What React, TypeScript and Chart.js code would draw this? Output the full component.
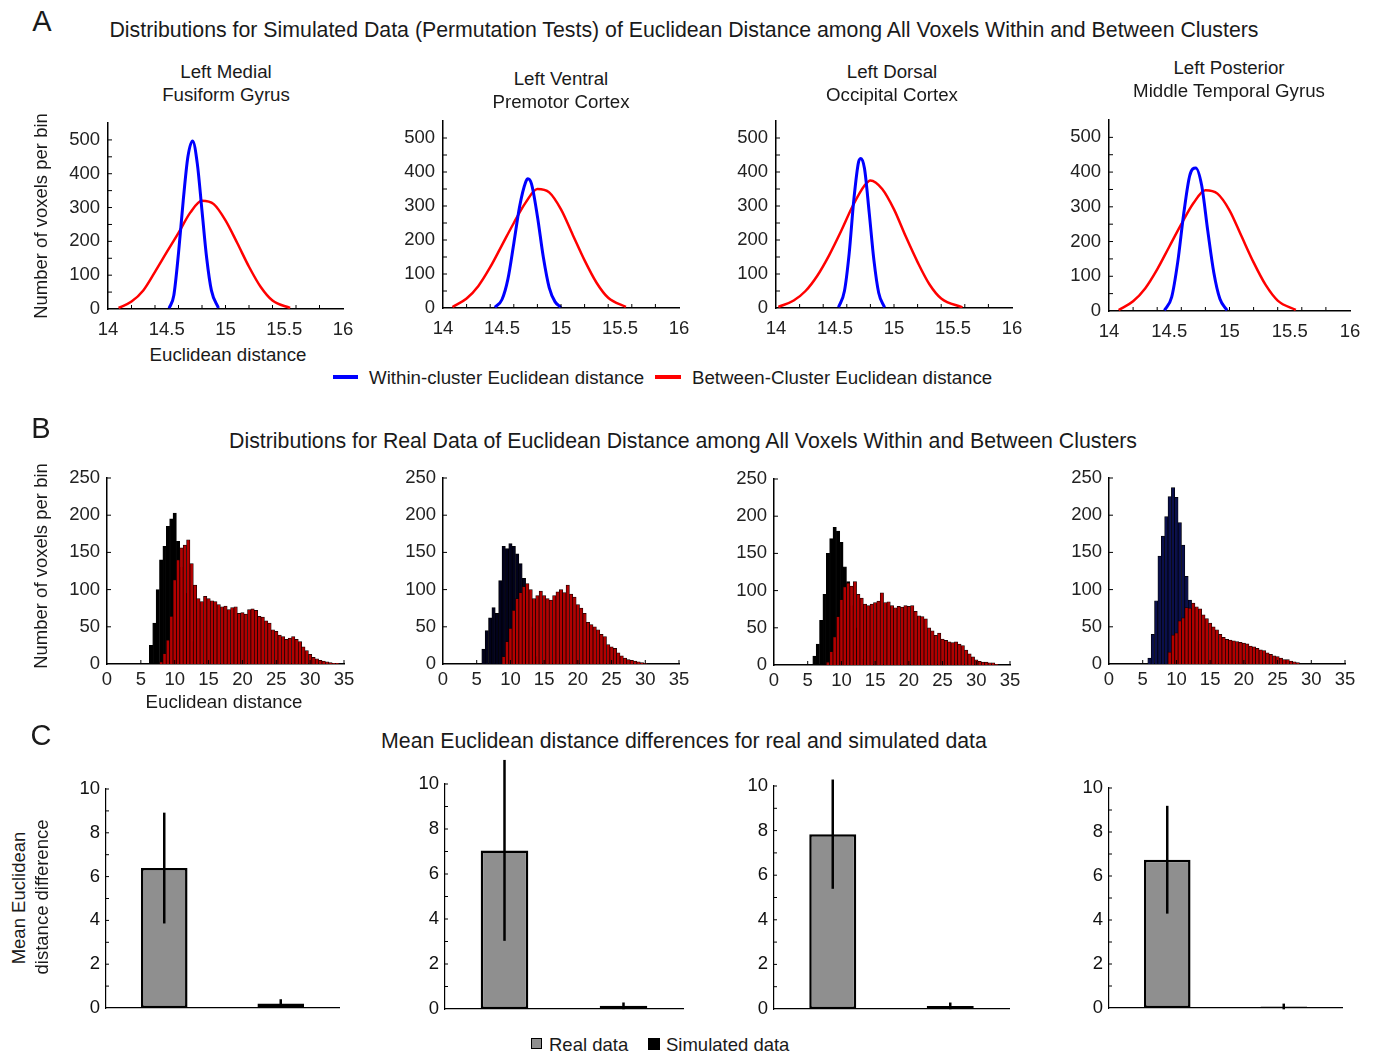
import React, { useEffect, useRef } from 'react';
import { Chart, registerables } from 'chart.js';
Chart.register(...registerables);

const FONT = "'Liberation Sans', Arial, Helvetica, sans-serif";

// ---------- Panel titles ----------
const regionTitles = [
  ['Left Medial', 'Fusiform Gyrus'],
  ['Left Ventral', 'Premotor Cortex'],
  ['Left Dorsal', 'Occipital Cortex'],
  ['Left Posterior', 'Middle Temporal Gyrus'],
];

// ---------- Row A: simulated data curves ----------
const simWithinX = [
  [14.52, 14.56, 14.6, 14.64, 14.68, 14.72, 14.76, 14.8, 14.84, 14.88, 14.94],
  [14.44, 14.5, 14.55, 14.6, 14.65, 14.7, 14.72, 14.75, 14.8, 14.85, 14.9, 14.95, 15.0],
  [14.53, 14.58, 14.62, 14.66, 14.7, 14.72, 14.75, 14.79, 14.83, 14.87, 14.92],
  [14.46, 14.52, 14.57, 14.62, 14.67, 14.72, 14.77, 14.82, 14.87, 14.92, 14.98],
];
const simWithinY = [
  [2, 40, 165, 320, 450, 497, 430, 290, 150, 55, 3],
  [2, 25, 85, 190, 300, 370, 380, 365, 270, 150, 60, 18, 2],
  [2, 50, 160, 320, 430, 440, 410, 280, 140, 45, 2],
  [2, 40, 140, 280, 390, 412, 360, 230, 110, 35, 2],
];
const simBetweenX = [
  [14.09, 14.2, 14.3, 14.4, 14.5, 14.6, 14.7, 14.8, 14.9, 15.0, 15.1, 15.2, 15.3, 15.4, 15.55],
  [14.08, 14.2, 14.3, 14.4, 14.5, 14.6, 14.7, 14.8, 14.9, 15.0, 15.1, 15.2, 15.3, 15.4, 15.55],
  [14.02, 14.15, 14.25, 14.35, 14.45, 14.55, 14.65, 14.75, 14.8, 14.9, 15.0, 15.1, 15.2, 15.3, 15.4, 15.58],
  [14.08, 14.2, 14.3, 14.4, 14.5, 14.6, 14.7, 14.8, 14.9, 15.0, 15.1, 15.2, 15.3, 15.4, 15.55],
];
const simBetweenY = [
  [3, 22, 55, 110, 168, 225, 285, 320, 310, 262, 195, 125, 65, 25, 3],
  [3, 28, 65, 120, 185, 250, 310, 350, 340, 290, 215, 140, 75, 30, 3],
  [3, 22, 50, 95, 155, 225, 300, 360, 375, 350, 290, 210, 135, 70, 28, 2],
  [3, 28, 65, 120, 185, 250, 310, 348, 338, 290, 215, 140, 75, 30, 3],
];
const simTicksY = [0, 100, 200, 300, 400, 500];

// ---------- Row B: real data histograms (bin width 0.5) ----------
const BIN_WIDTH = 0.5;
const realWithinStart = [6.5, 6.0, 6.0, 6.0];
const realWithinCounts = [
  [25, 55, 100, 140, 158, 185, 195, 203, 165, 130, 95, 60, 30, 10],
  [20, 45, 62, 76, 68, 112, 158, 155, 162, 158, 148, 135, 115, 80, 50, 25, 10],
  [12, 28, 60, 95, 150, 170, 185, 180, 165, 132, 112, 80, 50, 25, 8],
  [8, 40, 85, 145, 172, 198, 225, 237, 224, 190, 160, 118, 86, 55, 30, 12],
];
const realBetweenStart = [8.0, 9.0, 8.0, 9.0];
const realBetweenCounts = [
  [3, 14, 32, 64, 113, 140, 156, 160, 167, 135, 106, 88, 84, 91, 88, 85, 84, 80, 77, 78, 73, 76, 77, 68, 69, 67, 73, 74, 72, 64, 63, 58, 55, 46, 44, 39, 37, 33, 35, 37, 33, 30, 23, 18, 13, 9, 7, 5, 4, 3, 2, 1, 1],
  [10, 30, 48, 72, 88, 96, 104, 108, 100, 88, 92, 98, 92, 88, 86, 92, 97, 100, 96, 106, 94, 90, 80, 75, 68, 56, 53, 50, 46, 40, 37, 26, 23, 21, 15, 11, 8, 6, 5, 4, 3, 2, 1],
  [4, 18, 38, 65, 88, 105, 110, 106, 112, 95, 90, 82, 80, 82, 84, 86, 97, 84, 85, 80, 77, 79, 78, 80, 79, 80, 72, 66, 65, 62, 50, 46, 40, 43, 35, 33, 31, 30, 31, 28, 26, 20, 15, 11, 7, 5, 4, 4, 3, 3, 1],
  [16, 39, 42, 58, 62, 76, 75, 82, 77, 74, 66, 61, 55, 50, 46, 40, 36, 33, 32, 31, 30, 29, 28, 27, 24, 23, 21, 19, 18, 15, 13, 11, 10, 8, 6, 6, 4, 3, 2],
];
const withinColors = ['#000000', '#02021c', '#000000', '#0a0f4c'];

// ---------- Row C: mean differences ----------
const barCategories = ['Real data', 'Simulated data'];
const realMeans = [6.39, 7.05, 7.84, 6.74];
const realErrs = [2.53, 4.02, 2.45, 2.45];
const simMeans = [0.2, 0.14, 0.14, 0.07];
const simErrs = [0.2, 0.15, 0.15, 0.13];

// ---------- tick marks ----------
const aMinorX = [14.2, 14.4, 14.6, 14.8, 15.0, 15.2, 15.4, 15.6, 15.8];
const aMinorY = [50, 100, 150, 200, 250, 300, 350, 400, 450, 500];
const bTickX = [5, 10, 15, 20, 25, 30, 35];
const bTickY = [50, 100, 150, 200, 250];
const cTickY = [1, 2, 3, 4, 5, 6, 7, 8, 9, 10];

// ---------- layout of plot areas (page px) ----------
type Area = { l: number; r: number; t: number; b: number };
const areasA: Area[] = [
  { l: 108, r: 343, t: 123, b: 309 },
  { l: 443, r: 679, t: 121, b: 308 },
  { l: 776, r: 1012, t: 121, b: 308 },
  { l: 1109, r: 1350, t: 120, b: 311 },
];
const areasB: Area[] = [
  { l: 107, r: 344, t: 478, b: 664 },
  { l: 443, r: 679, t: 478, b: 664 },
  { l: 774, r: 1010, t: 479, b: 665 },
  { l: 1109, r: 1345, t: 478, b: 664 },
];
const areasC: Area[] = [
  { l: 106, r: 339, t: 789, b: 1008 },
  { l: 445, r: 683, t: 784, b: 1009 },
  { l: 774, r: 1009, t: 786, b: 1009 },
  { l: 1109, r: 1342, t: 788, b: 1008 },
];

const zip = (xs: number[], ys: number[]) => xs.map((x, i) => ({ x, y: ys[i] }));
const bins = (start: number, counts: number[]) => counts.map((c, i) => ({ x: start + i * BIN_WIDTH, y: c }));

function ticksPlugin(xs: number[], ys: number[], len: number, width = 1) {
  return {
    id: 'inTicks',
    afterDraw(chart: any) {
      const { ctx, chartArea, scales } = chart;
      ctx.save();
      ctx.strokeStyle = '#000';
      ctx.lineWidth = width;
      for (const v of ys) {
        const py = scales.y.getPixelForValue(v);
        ctx.beginPath();
        ctx.moveTo(chartArea.left, py);
        ctx.lineTo(chartArea.left + len, py);
        ctx.stroke();
      }
      for (const v of xs) {
        const px = scales.x.getPixelForValue(v);
        ctx.beginPath();
        ctx.moveTo(px, chartArea.bottom);
        ctx.lineTo(px, chartArea.bottom - len);
        ctx.stroke();
      }
      ctx.restore();
    },
  };
}

const errPlugin = {
  id: 'errBars',
  afterDatasetsDraw(chart: any) {
    const ds = chart.data.datasets[0];
    const meta = chart.getDatasetMeta(0);
    const ys = chart.scales.y;
    const ctx = chart.ctx;
    ctx.save();
    ctx.strokeStyle = '#000';
    ctx.lineWidth = 2.5;
    meta.data.forEach((el: any, i: number) => {
      const m = ds.data[i];
      const e = ds.errs[i];
      ctx.beginPath();
      ctx.moveTo(el.x, ys.getPixelForValue(m + e));
      ctx.lineTo(el.x, ys.getPixelForValue(m - e));
      ctx.stroke();
    });
    ctx.restore();
  },
};

type Geo = { yW: number; xH: number; pT: number; pR: number };

const baseOpts = (g: Geo) => ({
  animation: false,
  responsive: false,
  events: [],
  layout: { padding: { top: g.pT, right: g.pR, left: 0, bottom: 0 } },
  plugins: { legend: { display: false }, tooltip: { enabled: false }, title: { display: false } },
});

const zeroPad = (s: any) => {
  s.paddingTop = 0;
  s.paddingBottom = 0;
  s.paddingLeft = 0;
  s.paddingRight = 0;
};
const fitX = (g: Geo) => (s: any) => { s.height = g.xH; zeroPad(s); };
const fitY = (g: Geo) => (s: any) => { s.width = g.yW; zeroPad(s); };

const tickFont = { family: FONT, size: 18.5 };

function rowA(i: number) {
  return (g: Geo) => ({
    type: 'line',
    data: {
      datasets: [
        { data: zip(simWithinX[i], simWithinY[i]), borderColor: '#0000ff', borderWidth: 3, pointRadius: 0, cubicInterpolationMode: 'monotone', fill: false },
        { data: zip(simBetweenX[i], simBetweenY[i]), borderColor: '#ff0000', borderWidth: 2.5, pointRadius: 0, cubicInterpolationMode: 'monotone', fill: false },
      ],
    },
    options: {
      ...baseOpts(g),
      scales: {
        x: {
          type: 'linear', min: 14, max: 16, offset: false,
          grid: { display: false, drawTicks: false },
          border: { color: '#000', width: 1.5 },
          ticks: { stepSize: 0.5, padding: 10, color: '#222', font: tickFont, maxRotation: 0, autoSkip: false, callback: (v: any) => String(+Number(v).toFixed(2)) },
          afterFit: fitX(g),
        },
        y: {
          type: 'linear', min: 0, max: 550,
          grid: { display: false, drawTicks: false },
          border: { color: '#000', width: 1.5 },
          ticks: { padding: 8, color: '#222', font: tickFont },
          afterBuildTicks: (s: any) => { s.ticks = simTicksY.map((v) => ({ value: v })); },
          afterFit: fitY(g),
        },
      },
    },
    plugins: [ticksPlugin(aMinorX, aMinorY, 4)],
  });
}

function rowB(i: number) {
  return (g: Geo) => ({
    type: 'bar',
    data: {
      datasets: [
        { data: bins(realBetweenStart[i], realBetweenCounts[i]), backgroundColor: '#b30000', borderColor: '#140000', borderWidth: 0.75, barPercentage: 1, categoryPercentage: 1, grouped: false },
        { data: bins(realWithinStart[i], realWithinCounts[i]), backgroundColor: withinColors[i], borderColor: '#000', borderWidth: 0.75, barPercentage: 1, categoryPercentage: 1, grouped: false },
      ],
    },
    options: {
      ...baseOpts(g),
      scales: {
        x: {
          type: 'linear', min: 0, max: 35, offset: false,
          grid: { display: false, drawTicks: false, offset: false },
          border: { color: '#000', width: 1.5 },
          ticks: { stepSize: 5, padding: 5, color: '#222', font: tickFont, maxRotation: 0, autoSkip: false },
          afterFit: fitX(g),
        },
        y: {
          type: 'linear', min: 0, max: 250,
          grid: { display: false, drawTicks: false },
          border: { color: '#000', width: 1.5 },
          ticks: { stepSize: 50, padding: 7, color: '#222', font: tickFont },
          afterFit: fitY(g),
        },
      },
    },
    plugins: [ticksPlugin(bTickX, bTickY, 4)],
  });
}

function rowC(i: number) {
  return (g: Geo) => ({
    type: 'bar',
    data: {
      labels: barCategories,
      datasets: [
        {
          data: [realMeans[i], simMeans[i]],
          errs: [realErrs[i], simErrs[i]],
          backgroundColor: ['#8f8f8f', '#000000'],
          borderColor: '#000',
          borderWidth: 2.5,
          borderSkipped: false,
          barPercentage: 0.4,
          categoryPercentage: 1,
        },
      ],
    },
    options: {
      ...baseOpts(g),
      scales: {
        x: {
          type: 'category',
          grid: { display: false, drawTicks: false },
          border: { color: '#000', width: 1.2 },
          ticks: { display: false },
          afterFit: fitX(g),
        },
        y: {
          type: 'linear', min: 0, max: 10,
          grid: { display: false, drawTicks: false },
          border: { color: '#000', width: 1.2 },
          ticks: { stepSize: 2, padding: 6, color: '#111', font: tickFont },
          afterFit: fitY(g),
        },
      },
    },
    plugins: [ticksPlugin([], cTickY, 3), errPlugin],
  });
}

function ChartBox({ area, geo, make }: { area: Area; geo: Geo; make: (g: Geo) => any }) {
  const ref = useRef<HTMLCanvasElement>(null);
  const left = area.l - geo.yW;
  const top = area.t - geo.pT;
  const width = area.r - area.l + geo.yW + geo.pR;
  const height = area.b - area.t + geo.pT + geo.xH;
  useEffect(() => {
    const chart = new Chart(ref.current as HTMLCanvasElement, make(geo));
    return () => chart.destroy();
  }, []);
  return (
    <canvas
      ref={ref}
      width={width}
      height={height}
      style={{ position: 'absolute', left, top, width, height }}
    />
  );
}

function T({ x, y, s = 18.7, align = 'center', rot = 0, color = '#1a1a1a', children }: any) {
  const tx = align === 'center' ? '-50%' : align === 'left' ? '0%' : '-100%';
  return (
    <div
      style={{
        position: 'absolute', left: x, top: y,
        transform: `translate(${tx}, -50%) rotate(${rot}deg)`,
        fontFamily: FONT, fontSize: s, lineHeight: 1, whiteSpace: 'nowrap', color,
      }}
    >
      {children}
    </div>
  );
}

const geoA: Geo = { yW: 60, xH: 34, pT: 14, pR: 18 };
const geoB: Geo = { yW: 60, xH: 30, pT: 14, pR: 18 };
const geoC: Geo = { yW: 60, xH: 14, pT: 30, pR: 10 };

const titleCentersA = [
  { x: 226, y: 72 },
  { x: 561, y: 79 },
  { x: 892, y: 72 },
  { x: 1229, y: 68 },
];

export default function App() {
  return (
    <div style={{ position: 'absolute', left: 0, top: 0, width: 1374, height: 1053, background: '#fff', overflow: 'hidden' }}>
      {areasA.map((a, i) => <ChartBox key={'a' + i} area={a} geo={geoA} make={rowA(i)} />)}
      {areasB.map((a, i) => <ChartBox key={'b' + i} area={a} geo={geoB} make={rowB(i)} />)}
      {areasC.map((a, i) => <ChartBox key={'c' + i} area={a} geo={geoC} make={rowC(i)} />)}

      {/* Section A */}
      <T x={42} y={21} s={29}>A</T>
      <T x={684} y={31} s={21.3}>Distributions for Simulated Data (Permutation Tests) of Euclidean Distance among All Voxels Within and Between Clusters</T>
      {titleCentersA.map((p, i) => (
        <React.Fragment key={'t' + i}>
          <T x={p.x} y={p.y}>{regionTitles[i][0]}</T>
          <T x={p.x} y={p.y + 23}>{regionTitles[i][1]}</T>
        </React.Fragment>
      ))}
      <T x={41} y={216} s={18.5} rot={-90}>Number of voxels per bin</T>
      <T x={228} y={355}>Euclidean distance</T>
      <div style={{ position: 'absolute', left: 333, top: 375, width: 25, height: 4, background: '#0000ff' }} />
      <T x={369} y={378} align="left">Within-cluster Euclidean distance</T>
      <div style={{ position: 'absolute', left: 655, top: 375, width: 26, height: 4, background: '#ff0000' }} />
      <T x={692} y={378} align="left">Between-Cluster Euclidean distance</T>

      {/* Section B */}
      <T x={41} y={428} s={29}>B</T>
      <T x={683} y={442} s={21.3}>Distributions for Real Data of Euclidean Distance among All Voxels Within and Between Clusters</T>
      <T x={41} y={566} s={18.5} rot={-90}>Number of voxels per bin</T>
      <T x={224} y={702}>Euclidean distance</T>

      {/* Section C */}
      <T x={41} y={735} s={29}>C</T>
      <T x={684} y={742} s={21.3}>Mean Euclidean distance differences for real and simulated data</T>
      <T x={19} y={898} s={18.5} rot={-90}>Mean Euclidean</T>
      <T x={42} y={897} s={18.5} rot={-90}>distance difference</T>
      <div style={{ position: 'absolute', left: 531, top: 1038, width: 9, height: 9, background: '#8f8f8f', border: '1.5px solid #000' }} />
      <T x={549} y={1045} s={18.5} align="left">Real data</T>
      <div style={{ position: 'absolute', left: 648, top: 1038, width: 12, height: 12, background: '#000' }} />
      <T x={666} y={1045} s={18.5} align="left">Simulated data</T>
    </div>
  );
}
